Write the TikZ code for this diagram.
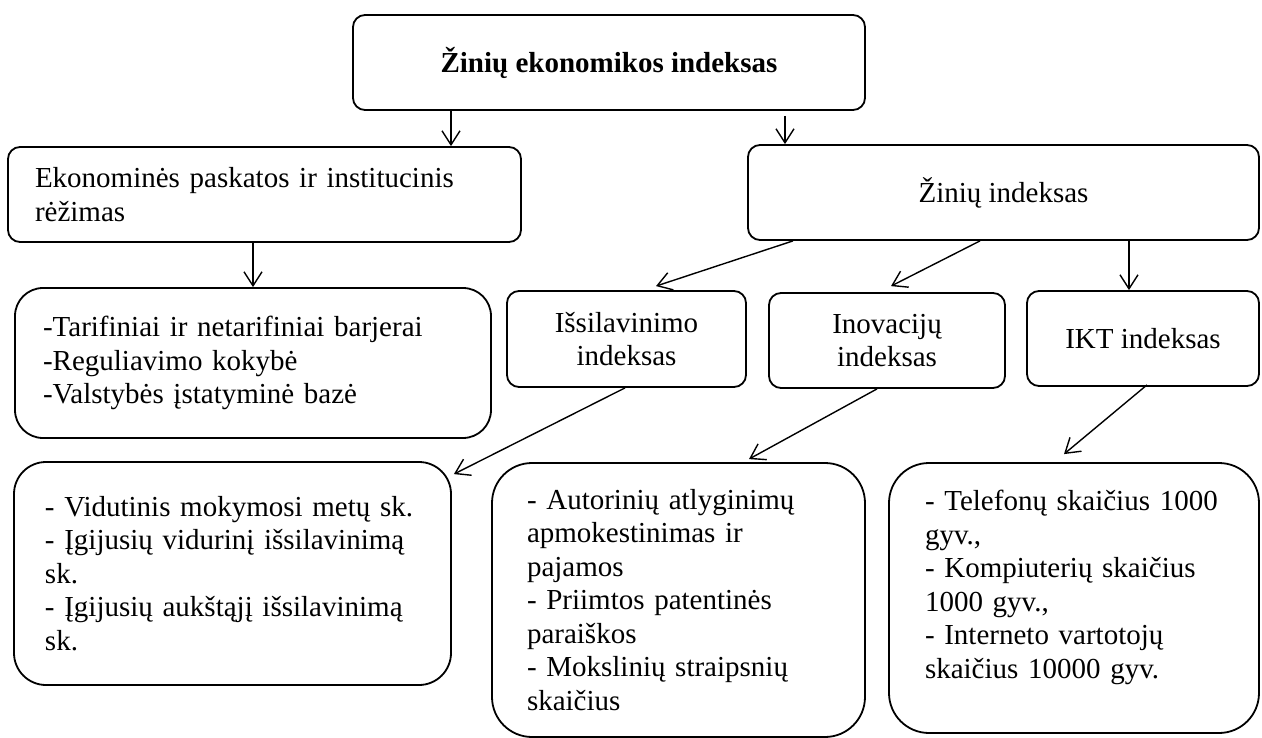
\documentclass[tikz,border=0pt]{standalone}
\usepackage{fontspec}
\setmainfont{Liberation Serif}
\usetikzlibrary{arrows.meta}

\begin{document}
\begin{tikzpicture}[x=1pt, y=-1pt,
		>={Straight Barb[length=14pt,width=18pt]},
		box/.style={draw, line width=1.8pt, rounded corners=12pt, inner sep=0pt, align=center, font=\fontsize{29}{33.5}\selectfont},
		link/.style={->, line width=1.4pt}]
		\useasboundingbox (0,0) rectangle (1262,738);
		% top level
		\node[box, minimum width=512pt, minimum height=95pt] (top) at (609,62.5) {\textbf{Žinių ekonomikos indeksas}};
		\node[box, align=left, minimum width=513pt, minimum height=95pt, inner xsep=27pt, text width=459pt] (ekon) at (264.5,194.5) {Ekonominės paskatos ir institucinis\\rėžimas};
		\node[box, minimum width=511pt, minimum height=95pt] (zin) at (1003.5,192.5) {Žinių indeksas};
		% sub indexes
		\node[box, align=left, rounded corners=28pt, minimum width=476pt, minimum height=150pt, inner xsep=28pt, text width=420pt] (tarif) at (253,363) {-Tarifiniai ir netarifiniai barjerai\\-Reguliavimo kokybė\\-Valstybės įstatyminė bazė};
		\node[box, minimum width=239pt, minimum height=96pt] (issil) at (626.5,339) {Išsilavinimo\\indeksas};
		\node[box, minimum width=236pt, minimum height=95pt] (inov) at (887,340.5) {Inovacijų\\indeksas};
		\node[box, minimum width=232pt, minimum height=95pt] (ikt) at (1143,338.5) {IKT indeksas};
		% indicators
		\node[box, align=left, rounded corners=32pt, minimum width=437pt, minimum height=223pt, inner xsep=31pt, text width=375pt] (vid) at (232.5,573.5) {- Vidutinis mokymosi metų sk.\\- Įgijusių vidurinį išsilavinimą\\sk.\\- Įgijusių aukštąjį išsilavinimą\\sk.};
		\node[box, align=left, rounded corners=40pt, minimum width=373pt, minimum height=274pt, inner xsep=35pt, text width=303pt] (aut) at (678.5,600) {- Autorinių atlyginimų\\apmokestinimas ir\\pajamos\\- Priimtos patentinės\\paraiškos\\- Mokslinių straipsnių\\skaičius};
		\node[box, align=left, rounded corners=40pt, minimum width=370pt, minimum height=270pt, inner xsep=36pt, text width=298pt] (tel) at (1074,598) {- Telefonų skaičius 1000\\gyv.,\\- Kompiuterių skaičius\\1000 gyv.,\\- Interneto vartotojų\\skaičius 10000 gyv.\rule[-27pt]{0pt}{0pt}};
		% arrows
		\draw[link] ([xshift=-158pt]top.south) -- ([xshift=186.5pt]ekon.north);
		\draw[link] ([xshift=176pt,yshift=-5pt]top.south) -- ([xshift=-218.5pt]zin.north);
		\draw[link] ([xshift=-11.5pt]ekon.south) -- (tarif.north);
		\draw[link] ([xshift=-210.5pt]zin.south) -- ([xshift=29.5pt,yshift=4pt]issil.north);
		\draw[link] ([xshift=-23.5pt]zin.south) -- ([xshift=4pt,yshift=6pt]inov.north);
		\draw[link] ([xshift=125.5pt]zin.south) -- ([xshift=-14pt]ikt.north);
		\draw[link] ([xshift=-1.5pt]issil.south) -- ([shift={(2pt,-13pt)}]vid.north east);
		\draw[link] ([xshift=-10pt]inov.south) -- ([xshift=70.5pt,yshift=3pt]aut.north);
		\draw[link] ([xshift=4pt,yshift=2pt]ikt.south) -- ([xshift=-10pt,yshift=8pt]tel.north);
	\end{tikzpicture}
\end{document}
